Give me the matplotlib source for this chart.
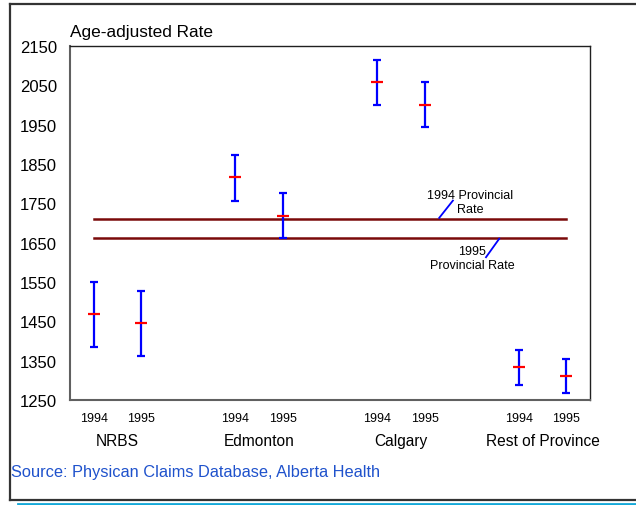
import numpy as np
import matplotlib
matplotlib.use('Agg')
import matplotlib.pyplot as plt
from matplotlib.lines import Line2D

plt.rcParams['font.family'] = ['Liberation Sans', 'DejaVu Sans']

# data
groups = ['NRBS', 'Edmonton', 'Calgary', 'Rest of Province']
years = ['1994', '1995']
positions = [1, 2, 4, 5, 7, 8, 10, 11]
rates = [1468, 1445, 1816, 1719, 2059, 2001, 1333, 1310]
upper = [1549, 1526, 1874, 1777, 2114, 2059, 1377, 1355]
lower = [1386, 1363, 1757, 1663, 2001, 1945, 1288, 1268]
prov_1994 = 1711
prov_1995 = 1661
yticks = [1250, 1350, 1450, 1550, 1650, 1750, 1850, 1950, 2050, 2150]

fig = plt.figure(figsize=(6.36, 5.06), dpi=100)
ax = fig.add_axes([70 / 636, 1 - 401 / 506, 520 / 636, 354 / 506])

rates = np.array(rates)
err = [rates - np.array(lower), np.array(upper) - rates]

# provincial rate lines
ax.plot([1, 11], [prov_1994, prov_1994], color='#7a0a0a', lw=1.8, zorder=1)
ax.plot([1, 11], [prov_1995, prov_1995], color='#7a0a0a', lw=1.8, zorder=1)

ax.errorbar(positions, rates, yerr=err, fmt='none', ecolor='#0000ff',
            elinewidth=1.6, capsize=3, capthick=1.6, zorder=2)
ax.plot(positions, rates, ls='none', marker='_', color='#ff0000',
        markersize=8, markeredgewidth=1.6, zorder=3)

# annotations
ax.plot([8.31, 8.60], [1713, 1757], color='#0000ff', lw=1.3)
ax.text(8.96, 1754, '1994 Provincial\nRate', ha='center', va='center',
        fontsize=9, linespacing=1.25)
ax.plot([9.58, 9.30], [1660, 1613], color='#0000ff', lw=1.3)
ax.text(9.0, 1611, '1995\nProvincial Rate', ha='center', va='center',
        fontsize=9, linespacing=1.25)

ax.set_xlim(0.5, 11.5)
ax.set_ylim(1250, 2150)
ax.set_yticks(yticks)
ax.set_yticklabels([str(t) for t in yticks], fontsize=12)
ax.set_xticks(positions)
ax.set_xticklabels(years * 4, fontsize=9)
ax.tick_params(axis='y', length=0, pad=9.5)
ax.tick_params(axis='x', length=0, pad=9)

for s in ['left', 'bottom']:
    ax.spines[s].set_color('#606060')
    ax.spines[s].set_linewidth(1.5)
for s in ['top', 'right']:
    ax.spines[s].set_color('#202020')
    ax.spines[s].set_linewidth(1.0)

for i, g in enumerate(groups):
    xc = (positions[2 * i] + positions[2 * i + 1]) / 2
    ax.text(xc, -0.115, g, transform=ax.get_xaxis_transform(),
            ha='center', va='center', fontsize=11.2)

fig.text(70 / 636, 1 - 33 / 506, 'Age-adjusted Rate', ha='left', va='center',
         fontsize=12.4)
fig.text(11 / 636, 1 - 472 / 506, 'Source: Physican Claims Database, Alberta Health',
         ha='left', va='center', fontsize=11.8, color='#1f52cc')

# outer frame
fig.add_artist(Line2D([9.5 / 636, 1], [1 - 5 / 506, 1 - 5 / 506],
                      transform=fig.transFigure, color='#333333', lw=1.6))
fig.add_artist(Line2D([9.5 / 636, 9.5 / 636], [1 - 5 / 506, 1 - 501 / 506],
                      transform=fig.transFigure, color='#333333', lw=1.6))
fig.add_artist(Line2D([9.5 / 636, 1], [1 - 501 / 506, 1 - 501 / 506],
                      transform=fig.transFigure, color='#333333', lw=1.6))
fig.add_artist(Line2D([18 / 636, 1], [1 - 504.5 / 506, 1 - 504.5 / 506],
                      transform=fig.transFigure, color='#14a8d8', lw=2.0))

fig.savefig('out.png', dpi=100)
